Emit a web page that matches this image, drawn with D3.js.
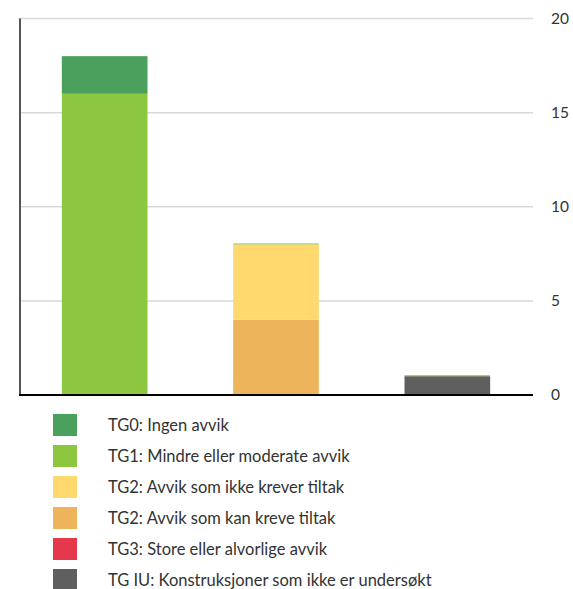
<!DOCTYPE html>
<html>
<head>
<meta charset="utf-8">
<script src="https://cdn.jsdelivr.net/npm/d3@7"></script>
<style>
  body { margin: 0; background: #fff; }
  svg text { font-family: Lato, "Open Sans", sans-serif; fill: #333; }
</style>
</head>
<body>
<div id="chart"></div>
<script>
// categories (no visible labels in the picture)
const categories = ["Del 1", "Del 2", "Del 3"];
const seriesNames = [
    "TG0: Ingen avvik",
    "TG1: Mindre eller moderate avvik",
    "TG2: Avvik som ikke krever tiltak",
    "TG2: Avvik som kan kreve tiltak",
    "TG3: Store eller alvorlige avvik",
    "TG IU: Konstruksjoner som ikke er undersøkt"
];
const seriesColors = ["#4aa05c", "#8dc63f", "#ffd96e", "#eeb45b", "#e5384c", "#5f5f5f"];
// values per category, in the series order above
const tg0 = [2, 0, 0];
const tg1 = [16, 0.05, 0.05];
const tg2ikke = [0, 4, 0];
const tg2kan = [0, 4, 0];
const tg3 = [0, 0, 0];
const tgIU = [0, 0, 1];
const yTicks = [0, 5, 10, 15, 20];

const width = 573, height = 589;
const plot = { left: 19, right: 533, top: 18.5, bottom: 395 };

const svg = d3.select("#chart").append("svg")
    .attr("width", width)
    .attr("height", height);

const x = d3.scaleBand()
    .domain(categories)
    .range([plot.left, plot.right])
    .paddingInner(0.5)
    .paddingOuter(0.25);

const y = d3.scaleLinear()
    .domain([0, 20])
    .range([plot.bottom, plot.top]);

// stack data: bottom to top order of drawing
const stackOrder = [5, 4, 3, 2, 1, 0];
const allSeries = [tg0, tg1, tg2ikke, tg2kan, tg3, tgIU];
const rows = categories.map((c, i) => {
    const r = { cat: c };
    seriesNames.forEach((n, k) => { r[n] = allSeries[k][i]; });
    return r;
});
const stacked = d3.stack()
    .keys(stackOrder.map(k => seriesNames[k]))(rows);

// gridlines
svg.append("g")
    .selectAll("line")
    .data(yTicks.filter(t => t > 0))
    .join("line")
    .attr("x1", plot.left)
    .attr("x2", plot.right)
    .attr("y1", d => y(d))
    .attr("y2", d => y(d))
    .attr("stroke", "#d9d9d9")
    .attr("stroke-width", 1.5);

// bars
svg.append("g")
    .selectAll("g")
    .data(stacked)
    .join("g")
    .attr("fill", d => seriesColors[seriesNames.indexOf(d.key)])
    .selectAll("rect")
    .data(d => d.filter(p => p[1] - p[0] > 0))
    .join("rect")
    .attr("x", d => x(d.data.cat))
    .attr("width", x.bandwidth())
    .attr("y", d => y(d[1]))
    .attr("height", d => Math.max(1, y(d[0]) - y(d[1])));

// left axis line
svg.append("line")
    .attr("x1", plot.left + 1)
    .attr("x2", plot.left + 1)
    .attr("y1", plot.top)
    .attr("y2", plot.bottom)
    .attr("stroke", "#555")
    .attr("stroke-width", 2);

// baseline
svg.append("line")
    .attr("x1", plot.left)
    .attr("x2", plot.right)
    .attr("y1", y(0))
    .attr("y2", y(0))
    .attr("stroke", "#000")
    .attr("stroke-width", 2);

// right tick labels
svg.append("g")
    .selectAll("text")
    .data(yTicks)
    .join("text")
    .attr("x", 551)
    .attr("y", d => y(d))
    .attr("dy", "0.35em")
    .attr("font-size", 15.5)
    .text(d => d);

// legend
const legend = svg.append("g")
    .selectAll("g")
    .data(seriesNames)
    .join("g")
    .attr("transform", (d, i) => `translate(53, ${414 + i * 31})`);

legend.append("rect")
    .attr("width", 24)
    .attr("height", 22)
    .attr("fill", (d, i) => seriesColors[i]);

legend.append("text")
    .attr("x", 55)
    .attr("y", 11)
    .attr("dy", "0.35em")
    .attr("font-size", 16.5)
    .text(d => d);
</script>
</body>
</html>
